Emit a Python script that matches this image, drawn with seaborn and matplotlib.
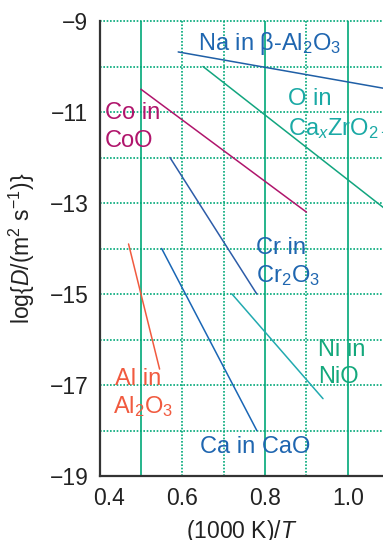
import pandas as pd
import seaborn as sns
import matplotlib.pyplot as plt
from matplotlib.transforms import ScaledTranslation

# Diffusion coefficients (Arrhenius lines)
systems = ['Na', 'O', 'Co', 'Cr', 'Ca', 'Al', 'Ni']
x_start = [0.59, 0.65, 0.50, 0.57, 0.55, 0.47, 0.72]
x_end = [1.10, 1.10, 0.90, 0.78, 0.78, 0.545, 0.94]
logd_start = [-9.68, -10.0, -10.5, -12.0, -14.0, -13.9, -15.0]
logd_end = [-10.5, -13.2, -13.2, -15.0, -18.0, -16.65, -17.3]

line_colors = {'Na': '#1f5fa6', 'O': '#12a57f', 'Co': '#b0156c', 'Cr': '#2d5ca8',
               'Ca': '#1a66b5', 'Al': '#f15a3f', 'Ni': '#22aab0'}

x_ticks = [0.4, 0.6, 0.8, 1.0]
x_tick_labels = ['0.4', '0.6', '0.8', '1.0']
y_ticks = [-9, -11, -13, -15, -17, -19]
y_tick_labels = ['\u22129', '\u221211', '\u221213', '\u221215', '\u221217', '\u221219']

df = pd.DataFrame({
    'system': systems * 2,
    'x': x_start + x_end,
    'logD': logd_start + logd_end,
})

sns.set_style('white')
plt.rcParams['font.family'] = ['Liberation Sans', 'DejaVu Sans']
plt.rcParams['mathtext.fontset'] = 'custom'
plt.rcParams['mathtext.rm'] = 'Liberation Sans'
plt.rcParams['mathtext.it'] = 'Liberation Sans:italic'

fig = plt.figure(figsize=(3.83, 5.40), dpi=100)
ax = fig.add_axes([0.26, 0.1185, 0.74, 0.8426])

grid_c = '#00a878'
# grid lines
for yv in range(-18, -8):
    ax.axhline(yv, color=grid_c, lw=1.2, ls=(0, (1, 1)), zorder=0, clip_on=False)
for xv in [0.5, 0.6, 0.7, 0.8, 0.9, 1.0]:
    solid = xv in (0.5, 0.8, 1.0)
    ax.axvline(xv, color=grid_c, lw=1.2,
               ls='-' if solid else (0, (1, 1)), zorder=0)

sns.lineplot(data=df, x='x', y='logD', hue='system', palette=line_colors,
             units='system', estimator=None, legend=False, lw=1.1, ax=ax, zorder=3)

ax.set_xlim(0.4, 1.085)
ax.set_ylim(-19, -9)
ax.set_xticks(x_ticks)
ax.set_xticklabels(x_tick_labels)
ax.set_yticks(y_ticks)
ax.set_yticklabels(y_tick_labels)
ax.tick_params(length=0, pad=8, labelsize=16.5, colors='#222222')
for s in ['top', 'right']:
    ax.spines[s].set_visible(False)
for s in ['left', 'bottom']:
    ax.spines[s].set_color('#333333')
    ax.spines[s].set_linewidth(1.6)

# first x label sits a bit right of its tick in the original
lab0 = ax.get_xticklabels()[0]
lab0.set_transform(lab0.get_transform() + ScaledTranslation(0.09, 0, fig.dpi_scale_trans))

ax.set_xlabel('(1000 K)/$T$', fontsize=16.5, color='#222222', labelpad=6)
ax.set_ylabel('log{$D$/(m$^{2}$ s$^{-1}$)}', fontsize=16.5, color='#222222')
ax.yaxis.set_label_coords(-0.22, 0.5)

fs = 17
blue = '#1f66b0'
ax.text(0.638, -9.64, 'Na in β-Al$_2$O$_3$', color=blue, fontsize=fs)
ax.text(0.855, -10.85, 'O in', color='#1aa9a5', fontsize=fs)
ax.text(0.855, -11.5, 'Ca$_x$ZrO$_{2\u2212x}$', color='#1aa9a5', fontsize=fs)
ax.text(0.413, -11.15, 'Co in', color='#b0156c', fontsize=fs)
ax.text(0.413, -11.77, 'CoO', color='#b0156c', fontsize=fs)
ax.text(0.778, -14.12, 'Cr in', color=blue, fontsize=fs)
ax.text(0.778, -14.74, 'Cr$_2$O$_3$', color=blue, fontsize=fs)
ax.text(0.928, -16.36, 'Ni in', color='#14a87c', fontsize=fs)
ax.text(0.928, -16.96, 'NiO', color='#14a87c', fontsize=fs)
ax.text(0.4375, -17.0, 'Al in', color='#f15a3f', fontsize=fs)
ax.text(0.4335, -17.62, 'Al$_2$O$_3$', color='#f15a3f', fontsize=fs)
ax.text(0.643, -18.49, 'Ca in CaO', color=blue, fontsize=fs)

fig.savefig('out.png', dpi=100)
